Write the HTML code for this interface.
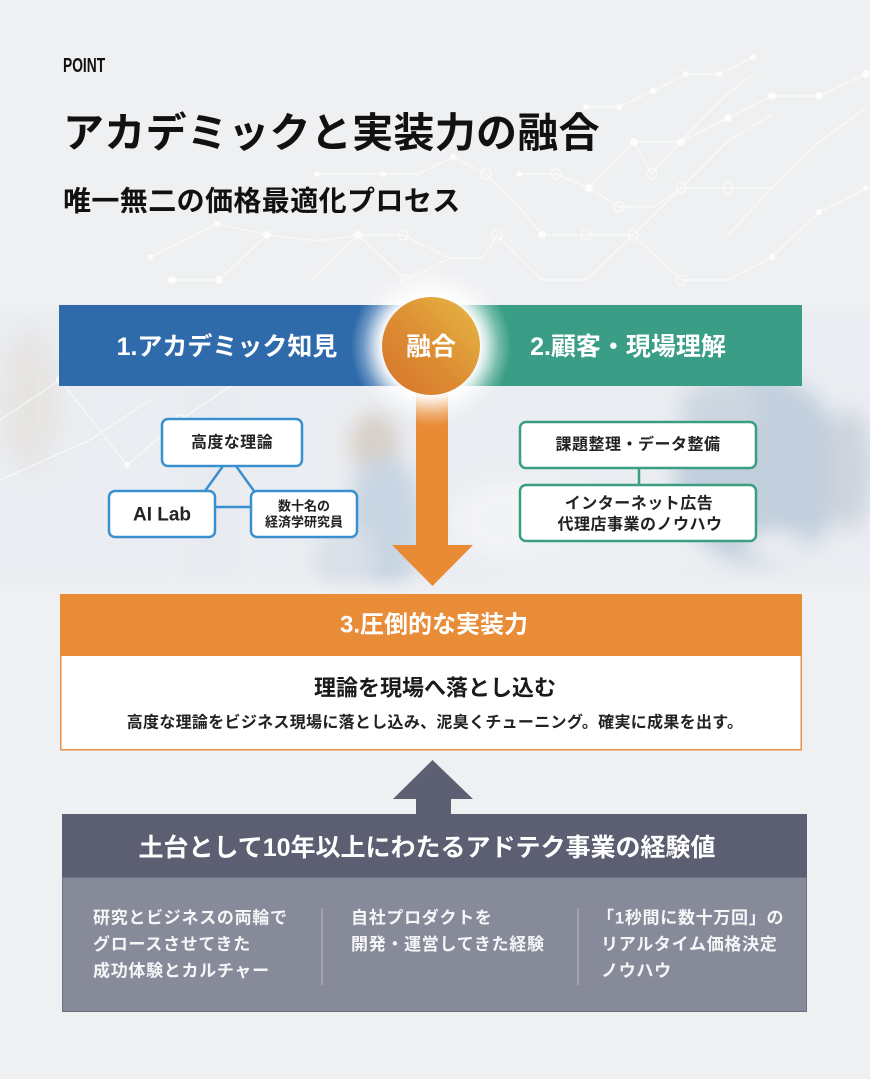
<!DOCTYPE html>
<html>
<head>
<meta charset="utf-8">
<style>
html,body{margin:0;padding:0;}
body{width:870px;height:1079px;background:#eff0f2;position:relative;overflow:hidden;font-family:"Liberation Sans","Noto Sans CJK JP",sans-serif;}
svg{position:absolute;left:0;top:0;}
svg text{font-family:"Liberation Sans","Noto Sans CJK JP",sans-serif;}
</style>
</head>
<body>
<svg width="870" height="1079" viewBox="0 0 870 1079" xmlns="http://www.w3.org/2000/svg">
<defs>
  <filter id="blur" x="-50%" y="-50%" width="200%" height="200%"><feGaussianBlur stdDeviation="10"/></filter>
  <linearGradient id="circ" x1="1" y1="0" x2="0" y2="1">
    <stop offset="0" stop-color="#e6b944"/>
    <stop offset="0.55" stop-color="#dd8c33"/>
    <stop offset="1" stop-color="#d6742c"/>
  </linearGradient>
  <radialGradient id="glow" cx="431" cy="346" r="80" gradientUnits="userSpaceOnUse">
    <stop offset="0" stop-color="#ffffff" stop-opacity="1"/>
    <stop offset="0.6" stop-color="#ffffff" stop-opacity="1"/>
    <stop offset="0.7" stop-color="#ffffff" stop-opacity="0.75"/>
    <stop offset="0.85" stop-color="#ffffff" stop-opacity="0.3"/>
    <stop offset="1" stop-color="#ffffff" stop-opacity="0"/>
  </radialGradient>
  <linearGradient id="photoFade" x1="0" y1="0" x2="0" y2="1">
    <stop offset="0" stop-color="#eff0f2" stop-opacity="1"/>
    <stop offset="0.08" stop-color="#eff0f2" stop-opacity="0"/>
    <stop offset="0.92" stop-color="#eff0f2" stop-opacity="0"/>
    <stop offset="1" stop-color="#eff0f2" stop-opacity="1"/>
  </linearGradient>
</defs>

<!-- faded photo background -->
<g>
  <rect x="0" y="298" width="870" height="298" fill="#eaedf1"/>
  <g filter="url(#blur)" opacity="0.8">
    <ellipse cx="30" cy="400" rx="30" ry="70" fill="#e6e3e0"/>
    <rect x="190" y="330" width="40" height="260" fill="#e6eaef"/>
    <ellipse cx="375" cy="445" rx="24" ry="32" fill="#d3c7bc"/>
    <ellipse cx="385" cy="525" rx="38" ry="70" fill="#bfcfdf"/>
    <ellipse cx="345" cy="560" rx="30" ry="40" fill="#d6dde6"/>
    <ellipse cx="520" cy="520" rx="70" ry="40" fill="#f4f5f7"/>
    <ellipse cx="760" cy="470" rx="85" ry="95" fill="#b8c7d8"/>
    <ellipse cx="720" cy="410" rx="40" ry="30" fill="#c6d1dd"/>
    <ellipse cx="850" cy="470" rx="22" ry="60" fill="#c6ced8"/>
    <ellipse cx="775" cy="545" rx="30" ry="14" fill="#eef0f3"/>
    <ellipse cx="600" cy="560" rx="90" ry="25" fill="#eef0f3"/>
  </g>
  <rect x="0" y="298" width="870" height="298" fill="url(#photoFade)"/>
</g>

<!-- network pattern -->
<g stroke="#ffffff" stroke-width="1" fill="none" opacity="0.75">
  <polyline points="586,107 619,107 653,91 686,74 719,74 753,57"/>
  <polyline points="634,142 681,142 728,118 772,96 819,96 866,74"/>
  <polyline points="589,188 634,142 652,174 680,142 725,96 753,74"/>
  <polyline points="519,174 556,174 589,188 619,207 653,207 681,188 728,141 772,115"/>
  <polyline points="453,157 486,174 519,207 542,235 586,235 633,235 681,188 728,188 772,188 819,142 866,108"/>
  <polyline points="317,174 383,174 418,174 453,157"/>
  <polyline points="217,224 267,235 317,241 358,235 403,235 450,258 483,258 497,235 542,280 586,280 633,235 681,280 728,280 772,257 819,212 867,188"/>
  <polyline points="150,257 183,241 217,224"/>
  <polyline points="172,280 219,280 267,235"/>
  <polyline points="311,280 358,235 406,280 450,258"/>
  <polyline points="728,235 772,188 819,142 866,108"/>
  <polyline points="0,420 60,380 127,465 180,420 240,380 300,330"/>
  <polyline points="0,480 90,440 150,400"/>
</g>
<g fill="#ffffff" opacity="0.8">
  <circle cx="586" cy="107" r="3"/><circle cx="619" cy="107" r="3"/><circle cx="653" cy="91" r="3"/>
  <circle cx="686" cy="74" r="3"/><circle cx="719" cy="74" r="3"/><circle cx="753" cy="57" r="3"/>
  <circle cx="634" cy="142" r="4"/><circle cx="681" cy="142" r="4"/><circle cx="728" cy="118" r="4"/>
  <circle cx="772" cy="96" r="4"/><circle cx="819" cy="96" r="4"/><circle cx="866" cy="74" r="4"/>
  <circle cx="589" cy="188" r="4"/><circle cx="519" cy="174" r="3"/><circle cx="453" cy="157" r="3"/>
  <circle cx="317" cy="174" r="3"/><circle cx="383" cy="174" r="3"/><circle cx="217" cy="224" r="3"/>
  <circle cx="267" cy="235" r="4"/><circle cx="358" cy="235" r="4"/><circle cx="542" cy="235" r="4"/>
  <circle cx="772" cy="257" r="3"/><circle cx="819" cy="212" r="3"/><circle cx="150" cy="257" r="3"/>
  <circle cx="172" cy="280" r="4"/><circle cx="219" cy="280" r="4"/><circle cx="866" cy="188" r="3"/>
  <circle cx="60" cy="380" r="4"/><circle cx="127" cy="465" r="3"/>
</g>
<g fill="none" stroke="#ffffff" stroke-width="1" opacity="0.8">
  <circle cx="681" cy="188" r="5"/><circle cx="728" cy="188" r="5"/><circle cx="652" cy="174" r="5"/>
  <circle cx="486" cy="174" r="5"/><circle cx="556" cy="174" r="5"/><circle cx="619" cy="207" r="5"/>
  <circle cx="586" cy="235" r="5"/><circle cx="633" cy="235" r="5"/><circle cx="403" cy="235" r="5"/>
  <circle cx="497" cy="235" r="5"/><circle cx="681" cy="280" r="5"/><circle cx="406" cy="280" r="5"/>
  <circle cx="180" cy="420" r="5"/>
</g>

<!-- header texts -->
<text x="0" y="0" transform="translate(63,72) scale(0.69,1)" font-size="20" font-weight="bold" fill="#111">POINT</text>
<text x="63" y="133" dominant-baseline="central" font-size="41" font-weight="bold" letter-spacing="0.3" fill="#111">アカデミックと実装力の融合</text>
<text x="63" y="201" dominant-baseline="central" font-size="28" font-weight="bold" letter-spacing="0.4" fill="#111">唯一無二の価格最適化プロセス</text>

<!-- top bars -->
<rect x="59" y="305" width="373" height="81" fill="#2f6bab"/>
<rect x="431" y="305" width="371" height="81" fill="#3a9e86"/>

<!-- orange down arrow -->
<rect x="416" y="380" width="32" height="166" fill="#e98b35"/>
<polygon points="392,545 473,545 432.5,586" fill="#e98b35"/>

<!-- glow + circle -->
<circle cx="431" cy="346" r="80" fill="url(#glow)"/>
<circle cx="431" cy="346" r="49" fill="url(#circ)"/>

<text x="227" y="347" text-anchor="middle" dominant-baseline="central" font-size="25" font-weight="bold" fill="#ffffff">1.アカデミック知見</text>
<text x="431" y="347" text-anchor="middle" dominant-baseline="central" font-size="25" font-weight="bold" fill="#ffffff">融合</text>
<text x="628" y="347" text-anchor="middle" dominant-baseline="central" font-size="25" font-weight="bold" fill="#ffffff">2.顧客・現場理解</text>

<!-- left boxes -->
<g stroke="#3a8fcf" stroke-width="2.5">
  <line x1="223" y1="466" x2="205" y2="491"/>
  <line x1="236" y1="466" x2="254" y2="491"/>
  <line x1="215" y1="507" x2="251" y2="507"/>
</g>
<g fill="#ffffff" stroke="#3a8fcf" stroke-width="2.5">
  <rect x="162" y="419" width="140" height="47" rx="6"/>
  <rect x="109" y="491" width="106" height="46" rx="6"/>
  <rect x="251" y="491" width="106" height="46" rx="6"/>
</g>
<g fill="#222" font-weight="bold" text-anchor="middle" dominant-baseline="central">
  <text x="232" y="443" font-size="16" letter-spacing="0.4">高度な理論</text>
  <text x="162" y="515" font-size="19">AI Lab</text>
  <text x="304" y="506" font-size="13">数十名の</text>
  <text x="304" y="522" font-size="13">経済学研究員</text>
</g>

<!-- right boxes -->
<line x1="639" y1="468" x2="639" y2="485" stroke="#3a9e80" stroke-width="2.5"/>
<g fill="#ffffff" stroke="#3a9e80" stroke-width="2.5">
  <rect x="520" y="422" width="236" height="46" rx="6"/>
  <rect x="520" y="485" width="236" height="56" rx="6"/>
</g>
<g fill="#222" font-weight="bold" text-anchor="middle" dominant-baseline="central" font-size="16" letter-spacing="0.5">
  <text x="638" y="445">課題整理・データ整備</text>
  <text x="639" y="504">インターネット広告</text>
  <text x="640" y="525">代理店事業のノウハウ</text>
</g>

<!-- orange result box -->
<rect x="60.75" y="594.75" width="740.5" height="155" fill="#ffffff" stroke="#ea9040" stroke-width="1.5"/>
<rect x="60" y="594" width="742" height="62" fill="#e88c37"/>
<text x="434" y="625" text-anchor="middle" dominant-baseline="central" font-size="24" font-weight="bold" fill="#ffffff">3.圧倒的な実装力</text>
<text x="435" y="688" text-anchor="middle" dominant-baseline="central" font-size="22" font-weight="bold" fill="#1a1a1a">理論を現場へ落とし込む</text>
<text x="435" y="723" text-anchor="middle" dominant-baseline="central" font-size="16" font-weight="bold" letter-spacing="0.3" fill="#222">高度な理論をビジネス現場に落とし込み、泥臭くチューニング。確実に成果を出す。</text>

<!-- gray up arrow -->
<polygon points="432.5,760 473,799 451,799 451,815 416,815 416,799 393,799" fill="#5d6073"/>

<!-- gray base box -->
<rect x="62.5" y="877.5" width="744" height="134" fill="#878a99" stroke="#6b6e80" stroke-width="1"/>
<rect x="62" y="814" width="745" height="63" fill="#5c5f72"/>
<text x="427" y="848" text-anchor="middle" dominant-baseline="central" font-size="25" font-weight="bold" fill="#ffffff">土台として10年以上にわたるアドテク事業の経験値</text>

<g stroke="#a9abb8" stroke-width="1.5">
  <line x1="322" y1="908" x2="322" y2="985"/>
  <line x1="578" y1="908" x2="578" y2="985"/>
</g>
<g fill="#f6f6f9" font-weight="bold" font-size="17" letter-spacing="0.7" dominant-baseline="central">
  <text x="93" y="918">研究とビジネスの両輪で</text>
  <text x="93" y="944.5">グロースさせてきた</text>
  <text x="93" y="971">成功体験とカルチャー</text>
  <text x="351" y="918">自社プロダクトを</text>
  <text x="351" y="944.5">開発・運営してきた経験</text>
  <text x="597" y="918">「1秒間に数十万回」の</text>
  <text x="601" y="944.5">リアルタイム価格決定</text>
  <text x="601" y="971">ノウハウ</text>
</g>
</svg>
</body>
</html>
